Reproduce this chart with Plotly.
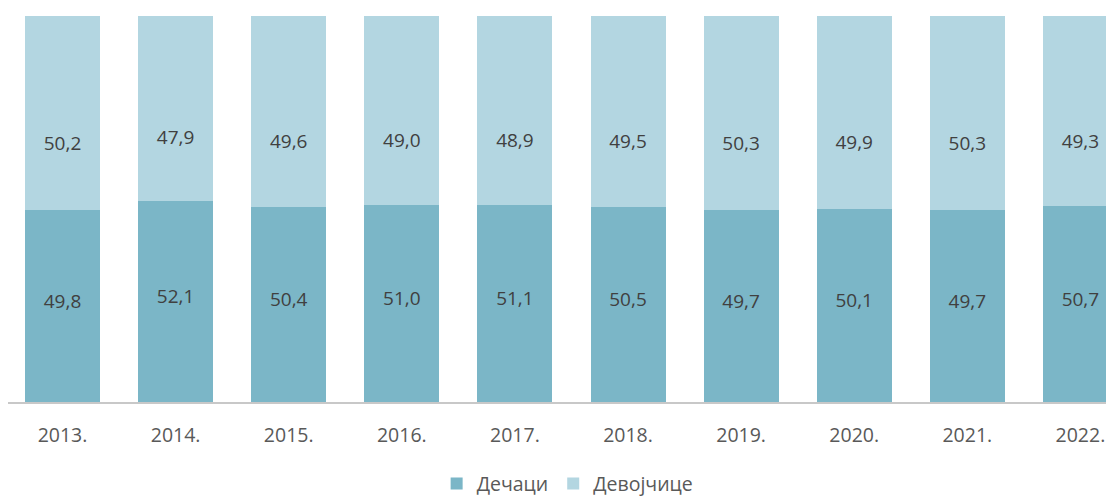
import plotly.graph_objects as go

years = ["2013.", "2014.", "2015.", "2016.", "2017.", "2018.", "2019.", "2020.", "2021.", "2022."]
boys = [49.8, 52.1, 50.4, 51.0, 51.1, 50.5, 49.7, 50.1, 49.7, 50.7]
girls = [50.2, 47.9, 49.6, 49.0, 48.9, 49.5, 50.3, 49.9, 50.3, 49.3]
series_names = ["Дечаци", "Девојчице"]

c_dark = "#7bb6c7"
c_light = "#b3d6e1"
font = "Open Sans"

def fmt(v):
    return f"{v:.1f}".replace(".", ",")

fig = go.Figure()
fig.add_bar(x=years, y=boys, name=series_names[0], marker_color=c_dark,
            marker_line_width=0, hoverinfo="skip")
fig.add_bar(x=years, y=girls, name=series_names[1], marker_color=c_light,
            marker_line_width=0, hoverinfo="skip")

fig.add_scatter(x=years, y=[b / 2 + 0.8 for b in boys], mode="text",
                text=[fmt(v) for v in boys], showlegend=False, hoverinfo="skip",
                cliponaxis=False,
                textfont=dict(family=font, size=19, color="#404040"))
fig.add_scatter(x=years, y=[b + g / 3 for b, g in zip(boys, girls)], mode="text",
                text=[fmt(v) for v in girls], showlegend=False, hoverinfo="skip",
                cliponaxis=False,
                textfont=dict(family=font, size=19, color="#404040"))

fig.update_layout(
    width=1106, height=490,
    margin=dict(l=0, r=0, t=8, b=96, autoexpand=False),
    barmode="stack", bargap=0.337,
    plot_bgcolor="white", paper_bgcolor="white",
    font=dict(family=font, color="#595959", size=19),
    showlegend=True,
    legend=dict(orientation="h", x=0.506, xanchor="center", y=-0.212, yanchor="middle",
                font=dict(family=font, size=19.5, color="#595959"),
                itemwidth=30, traceorder="normal"),
    xaxis=dict(type="category", range=[-0.482, 9.297], showgrid=False, automargin=False,
               showline=True, linecolor="#c8c8c8", linewidth=2,
               ticks="", ticklabelstandoff=15,
               tickfont=dict(family=font, size=19.5, color="#595959")),
    yaxis=dict(range=[0, 100], visible=False, showgrid=False, zeroline=False,
               automargin=False),
)

fig.write_html("out.html")
